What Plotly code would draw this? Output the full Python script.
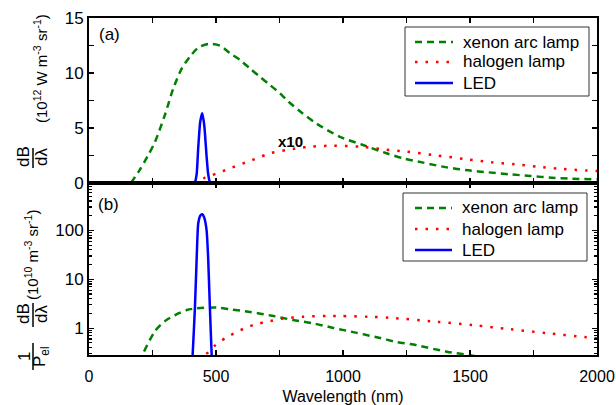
import plotly.graph_objects as go

# ---------------- data ----------------
# panel (a): spectral radiance dB/dλ (10^12 W m^-3 sr^-1)
xenon_a_wl = [165, 200, 230, 260, 299, 332, 365, 398, 430, 470, 516, 555, 594, 634, 673, 713,
              752, 785, 840, 896, 988, 1079, 1172, 1237, 1316, 1408, 1493, 1572, 1657, 1736,
              1822, 1900, 2000]
xenon_a = [0, 1.2, 2.4, 3.75, 6.2, 8.6, 10.4, 11.5, 12.3, 12.64, 12.48, 11.8, 11.2, 10.4, 9.66,
           8.9, 8.15, 7.4, 6.35, 5.4, 4.2, 3.45, 2.7, 2.24, 1.85, 1.42, 1.15, 0.97, 0.79, 0.64,
           0.48, 0.39, 0.33]

halogen_a_wl = [0, 420, 440, 457, 476, 512, 563, 621, 656, 713, 778, 817, 870, 961, 1067,
                1158, 1248, 1355, 1480, 1585, 1677, 1768, 1866, 2000]
halogen_a = [0, 0, 0.25, 0.48, 0.64, 0.94, 1.4, 1.9, 2.2, 2.7, 3.0, 3.15, 3.3, 3.39, 3.3,
             3.06, 2.85, 2.55, 2.18, 1.88, 1.7, 1.48, 1.27, 1.08]

led_a_wl = [0, 400, 410, 417, 424, 430, 438, 446, 454, 463, 469, 476, 483, 490, 2000]
led_a = [0, 0, 0.01, 0.08, 0.84, 3.2, 5.6, 6.35, 5.2, 2.4, 0.84, 0.08, 0.01, 0, 0]

# panel (b): normalised by electrical power (10^10 m^-3 sr^-1)
xenon_b_wl = [200, 214, 260, 299, 339, 385, 424, 503, 555, 634, 726, 804, 883, 962, 1054,
              1133, 1212, 1277, 1408, 1500, 1550]
xenon_b = [0.2, 0.31, 0.87, 1.39, 1.85, 2.35, 2.54, 2.63, 2.43, 2.14, 1.77, 1.46, 1.25, 1.01,
           0.8, 0.65, 0.52, 0.46, 0.33, 0.28, 0.25]

halogen_b_wl = [440, 450, 470, 500, 542, 575, 614, 654, 700, 759, 844, 936, 988, 1100, 1185,
                1368, 1513, 1657, 1801, 1959, 2000]
halogen_b = [0.2, 0.27, 0.32, 0.46, 0.65, 0.8, 1.0, 1.19, 1.35, 1.55, 1.71, 1.77, 1.77, 1.71,
             1.63, 1.35, 1.15, 0.95, 0.79, 0.65, 0.62]

led_b_wl = [400, 408, 417, 424, 430, 438, 446, 454, 463, 469, 476, 483, 490]
led_b = [0.05, 0.28, 2.6, 28, 138, 200, 214, 180, 100, 28, 2.6, 0.28, 0.05]

names = ["xenon arc lamp", "halogen lamp", "LED"]
x_ticks = [0, 500, 1000, 1500, 2000]

# ---------------- styling ----------------
FONT = "Liberation Sans, Arial, sans-serif"
GREEN = "#008000"
RED = "#ff0000"
BLUE = "#0000ff"
COLORS = [GREEN, RED, BLUE]
DASHES = ["7px,5px", "2.5px,8px", "solid"]

# target plot-area geometry in page pixels (body margin removed by post_script)
L, R, T, B = 89, 597, 18, 355
W, H = 616, 405


def xp(px):
    return (px - L) / (R - L)


def yp(py):
    return (B - py) / (B - T)


split = yp(183)

fig = go.Figure()


def add_series(x, y, i, xa, ya, smooth):
    fig.add_trace(go.Scatter(x=x, y=y, name=names[i], mode="lines", showlegend=False,
                             line=dict(color=COLORS[i], width=2.5, dash=DASHES[i],
                                       shape="spline", smoothing=smooth),
                             xaxis=xa, yaxis=ya, hoverinfo="skip"))


add_series(xenon_a_wl, xenon_a, 0, "x", "y", 0.8)
add_series(halogen_a_wl, halogen_a, 1, "x", "y", 0.8)
add_series(led_a_wl, led_a, 2, "x", "y", 0.5)
add_series(xenon_b_wl, xenon_b, 0, "x2", "y2", 0.8)
add_series(halogen_b_wl, halogen_b, 1, "x2", "y2", 0.8)
add_series(led_b_wl, led_b, 2, "x2", "y2", 0.5)

axis_common = dict(showgrid=False, zeroline=False, showline=True, linecolor="black", linewidth=2,
                   ticks="inside", tickcolor="black", ticklen=5, tickwidth=1.2, mirror="ticks",
                   automargin=False,
                   tickfont=dict(family=FONT, size=17, color="black"))

xaxis2_common = dict(axis_common)
xaxis2_common["tickfont"] = dict(family=FONT, size=16, color="black")

fig.update_layout(
    width=W, height=H,
    margin=dict(l=L, r=W - R, t=T, b=H - B, autoexpand=False),
    paper_bgcolor="white", plot_bgcolor="white",
    font=dict(family=FONT, size=16, color="black"),
    showlegend=False,
    xaxis=dict(domain=[0, 1], anchor="y", range=[0, 2000], dtick=250, showticklabels=False,
               **axis_common),
    yaxis=dict(domain=[split, 1], anchor="x", range=[0, 15], dtick=5,
               minor=dict(dtick=2.5, ticks="inside", ticklen=5, tickcolor="black"),
               **axis_common),
    xaxis2=dict(domain=[0, 1], anchor="y2", range=[0, 2000], tickvals=x_ticks,
                ticklabelstandoff=6,
                minor=dict(dtick=250, ticks="inside", ticklen=5, tickcolor="black"),
                title=dict(text="Wavelength (nm)", font=dict(family=FONT, size=16, color="black"),
                           standoff=8),
                **xaxis2_common),
    yaxis2=dict(domain=[0, split], anchor="x2", type="log", range=[-0.55, 2.97], dtick=1,
                minor=dict(dtick="D1", ticks="inside", ticklen=3, tickcolor="black"),
                **axis_common),
)

ann = []


def add_text(text, px, py, size=16, angle=0, bold=False, xanchor="center"):
    ann.append(dict(text=("<b>%s</b>" % text) if bold else text, x=xp(px), y=yp(py),
                    xref="paper", yref="paper", showarrow=False, textangle=angle,
                    xanchor=xanchor, yanchor="middle",
                    font=dict(family=FONT, size=size, color="black")))


add_text("(a)", 109, 35, size=17)
add_text("(b)", 108, 205, size=17)
add_text("x10", 290, 141, size=15, bold=True)

# y-axis title panel (a)
add_text("dB", 23, 157, size=17, angle=-90)
add_text("dλ", 41, 157, size=17, angle=-90)
add_text("(10<sup>12</sup> W m<sup>-3</sup> sr<sup>-1</sup>)", 40, 69, size=15, angle=-90)

# y-axis title panel (b)
add_text("dB", 23, 314, size=17, angle=-90)
add_text("dλ", 41, 314, size=17, angle=-90)
add_text("1", 24, 357, size=17, angle=-90)
add_text("P<sub>el</sub>", 41, 357, size=17, angle=-90)
add_text("(10<sup>10</sup> m<sup>-3</sup> sr<sup>-1</sup>)", 31, 255, size=15, angle=-90)

# fraction bars
for y0, y1 in [(148, 168), (303, 327), (343, 370)]:
    fig.add_shape(type="line", xref="paper", yref="paper", x0=xp(33), x1=xp(33),
                  y0=yp(y0), y1=yp(y1), line=dict(color="black", width=1.5))

# legends (box, sample lines, labels) for both panels
legend_boxes = [((405, 27, 589, 96), [42, 62, 83], 415, 453, 461),
                ((403, 193, 587, 261), [208, 229, 250], 415, 452, 460)]
for (bx0, by0, bx1, by1), rows, lx0, lx1, tx in legend_boxes:
    fig.add_shape(type="rect", xref="paper", yref="paper", x0=xp(bx0), x1=xp(bx1),
                  y0=yp(by1), y1=yp(by0), line=dict(color="#333333", width=1),
                  fillcolor="white", layer="above")
    for i, ry in enumerate(rows):
        fig.add_shape(type="line", xref="paper", yref="paper", x0=xp(lx0), x1=xp(lx1),
                      y0=yp(ry), y1=yp(ry), layer="above",
                      line=dict(color=COLORS[i], width=2.5, dash=DASHES[i]))
        add_text(names[i], tx, ry, size=17, xanchor="left")

fig.update_layout(annotations=ann)

fig.write_html("out.html", config={"displayModeBar": False, "staticPlot": True},
               post_script="document.body.style.margin='0';document.body.style.overflow='hidden';")
